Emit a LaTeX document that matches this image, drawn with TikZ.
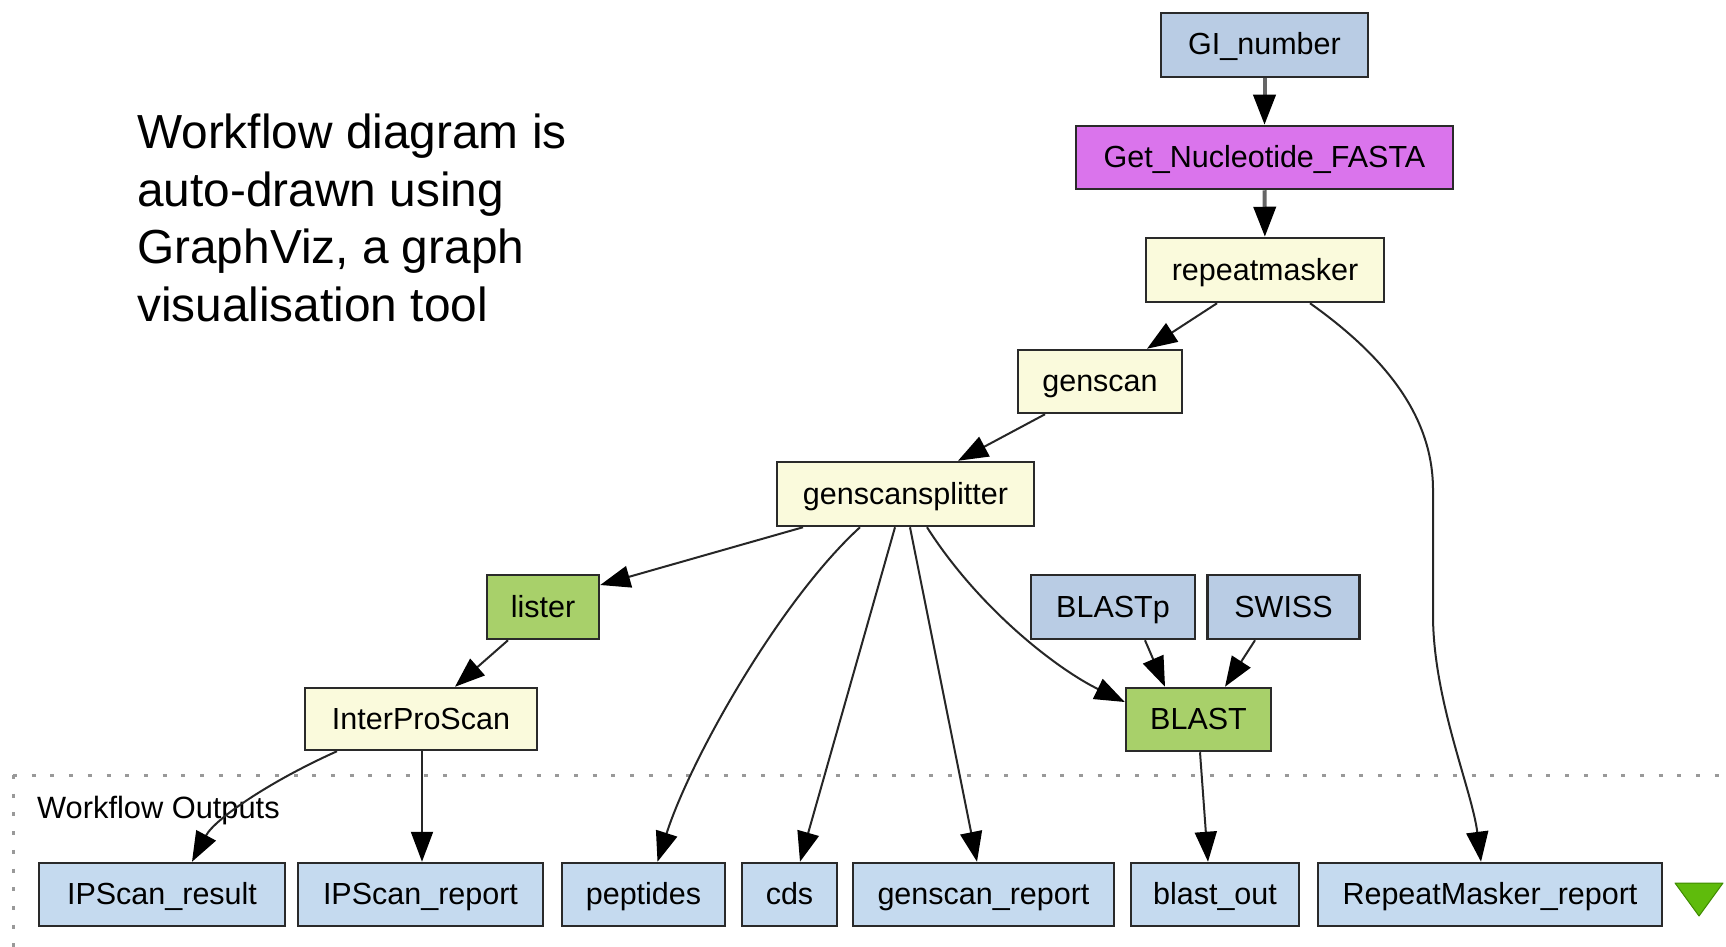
\documentclass[tikz,border=0pt]{standalone}
\usepackage{fontspec}
\setmainfont{Liberation Sans}
\usetikzlibrary{arrows.meta}
\definecolor{inblue}{HTML}{B9CCE4}
\definecolor{outblue}{HTML}{C5DAEF}
\definecolor{procyellow}{HTML}{FAFADC}
\definecolor{procgreen}{HTML}{A8D06A}
\definecolor{procmagenta}{HTML}{DA74EC}
\definecolor{trigreen}{HTML}{5FBB0C}
\definecolor{trigreendark}{HTML}{3F8A00}
\definecolor{boxline}{HTML}{2A2A2A}
\begin{document}
\begin{tikzpicture}[x=1pt,y=-1pt,
  box/.style={draw=boxline, line width=2.5pt, rectangle, inner sep=0pt, minimum height=63pt,
              text height=23pt, text depth=3pt,
              font=\fontsize{30.5}{36}\selectfont, text=black},
  inbox/.style={box, fill=inblue},
  outbox/.style={box, fill=outblue},
  ybox/.style={box, fill=procyellow},
  gbox/.style={box, fill=procgreen},
  mbox/.style={box, fill=procmagenta},
  edge/.style={line width=2pt, draw=black!85, -{Triangle[length=30pt,width=22pt,color=black]}},
  thickedge/.style={edge, line width=4pt, draw=black!60},
  dotline/.style={draw=black!40, line width=3pt, dash pattern=on 4pt off 14.7pt},
]
\useasboundingbox (0,0) rectangle (1726,947);

% frame of outputs
\draw[dotline] (13,775) -- (1726,775);
\draw[dotline] (13,775) -- (13,947);
\node[anchor=base west, inner sep=0pt, font=\fontsize{30.8}{36}\selectfont] (wo) at (37,818) {Workflow Outputs};

% annotation
\node[anchor=north west, inner sep=0pt, align=left, font=\fontsize{47.8}{57.5}\selectfont] (note) at (137,114)
  {Workflow diagram is\\auto-drawn using\\GraphViz, a graph\\visualisation tool};

% nodes
\node[inbox, minimum width=207pt, minimum height=64pt] (gi) at (1264.5,45) {GI\_number};
\node[mbox, minimum width=377pt] (gnf) at (1264.5,157.5) {Get\_Nucleotide\_FASTA};
\node[ybox, minimum width=238pt, minimum height=64pt] (rm) at (1265,270) {repeatmasker};
\node[ybox, minimum width=164pt] (gs) at (1100,381.5) {genscan};
\node[ybox, minimum width=257pt, minimum height=64pt] (gsp) at (905.5,494) {genscansplitter};
\node[gbox, minimum width=112pt, minimum height=64pt] (lister) at (543,607) {lister};
\node[inbox, minimum width=164pt, minimum height=64pt] (blastp) at (1113,607) {BLASTp};
\node[inbox, minimum width=152pt, minimum height=64pt] (swiss) at (1283.5,607) {SWISS};
\node[ybox, minimum width=232pt, minimum height=62pt] (ips) at (421,719) {InterProScan};
\node[gbox, minimum width=145pt] (blast) at (1198.5,719.5) {BLAST};

\node[outbox, minimum width=246pt] (ipres) at (162,894.5) {IPScan\_result};
\node[outbox, minimum width=245pt] (iprep) at (420.5,894.5) {IPScan\_report};
\node[outbox, minimum width=163pt] (pep) at (643.5,894.5) {peptides};
\node[outbox, minimum width=95pt] (cds) at (789.5,894.5) {cds};
\node[outbox, minimum width=261pt] (gsr) at (983.5,894.5) {genscan\_report};
\node[outbox, minimum width=168pt] (bo) at (1215,894.5) {blast\_out};
\node[outbox, minimum width=344pt] (rmr) at (1490,894.5) {RepeatMasker\_report};

% green triangle
\filldraw[fill=trigreen, draw=trigreendark, line width=1pt, line join=round]
  (1675,883) -- (1723,883) -- (1699,916) -- cycle;

% edges
\draw[thickedge] (gi) -- (gnf);
\draw[thickedge] (gnf) -- (rm);
\draw[edge] ([xshift=-48pt]rm.south) -- ([xshift=47pt]gs.north);
\draw[edge] ([xshift=45pt]rm.south) .. controls (1390,360) and (1433,420) .. (1433,490)
  -- (1433,615) .. controls (1433,700) and (1472,790) .. ([xshift=-9pt]rmr.north);
\draw[edge] ([xshift=-55pt]gs.south) -- ([xshift=52.5pt]gsp.north);
\draw[edge] ([xshift=-102.5pt]gsp.south) -- ([yshift=22pt]lister.east);
\draw[edge] ([xshift=-45.5pt]gsp.south) .. controls +(-80,73) and +(33,-103) .. ([xshift=14pt]pep.north);
\draw[edge] ([xshift=-10.5pt]gsp.south) -- ([xshift=10.5pt]cds.north);
\draw[edge] ([xshift=4.5pt]gsp.south) -- ([xshift=-6.5pt]gsr.north);
\draw[edge] ([xshift=21.5pt]gsp.south) .. controls +(53,83) and +(-66,-32) .. ([yshift=17.5pt]blast.west);
\draw[edge] ([xshift=32pt]blastp.south) -- ([xshift=-33.5pt]blast.north);
\draw[edge] ([xshift=-28.5pt]swiss.south) -- ([xshift=26.5pt]blast.north);
\draw[edge] ([xshift=1.5pt]blast.south) -- ([xshift=-7pt]bo.north);
\draw[edge] ([xshift=-35pt]lister.south) -- ([xshift=34pt]ips.north);
\draw[edge] ([xshift=-84pt]ips.south) .. controls +(-67,30) and +(23,-43) .. ([xshift=30pt]ipres.north);
\draw[edge] ([xshift=1pt]ips.south) -- ([xshift=1.5pt]iprep.north);
\end{tikzpicture}
\end{document}
